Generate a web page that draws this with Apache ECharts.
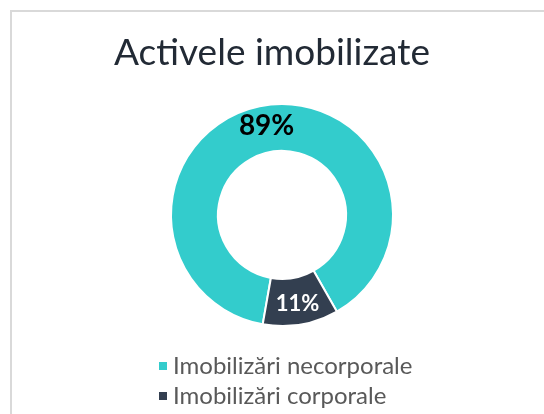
<!DOCTYPE html>
<html>
<head>
<meta charset="utf-8">
<script src="https://cdn.jsdelivr.net/npm/echarts@6/dist/echarts.min.js"></script>
<style>
  html, body { margin: 0; padding: 0; background: #fff; }
  #chart { width: 544px; height: 414px; }
</style>
</head>
<body>
<div id="chart"></div>
<script>
// date
const categories = ['Imobilizări necorporale', 'Imobilizări corporale']
const shares = [89, 11]
const colors = ['#33CCCC', '#333F50']

const chart = echarts.init(document.getElementById('chart'))
const fontFamily = 'Lato, "Noto Sans", sans-serif'

chart.setOption({
  backgroundColor: '#fff',
  color: colors,
  // chenar gri
  graphic: [{
    type: 'rect',
    shape: { x: 11, y: 11, width: 600, height: 500 },
    style: { fill: 'none', stroke: '#d9d9d9', lineWidth: 2 },
    silent: true
  }],
  title: {
    text: 'Activele imobilizate',
    left: 'center',
    top: 30,
    textStyle: {
      fontFamily,
      fontSize: 37,
      fontWeight: 'normal',
      color: '#222a35'
    }
  },
  legend: {
    orient: 'vertical',
    left: 152,
    top: 349,
    icon: 'rect',
    itemWidth: 10,
    itemHeight: 10,
    itemGap: 6,
    data: categories,
    textStyle: {
      fontFamily,
      fontSize: 24,
      lineHeight: 24,
      color: '#595959'
    }
  },
  series: [{
    type: 'pie',
    center: [282, 215],
    radius: [64, 111],
    startAngle: -100,
    clockwise: true,
    avoidLabelOverlap: false,
    itemStyle: { borderColor: '#fff', borderWidth: 2 },
    label: {
      show: true,
      position: 'inside',
      formatter: '{d}%',
      fontFamily,
      fontWeight: 'bold'
    },
    labelLine: { show: false },
    emphasis: { disabled: true },
    data: categories.map((name, i) => ({
      name,
      value: shares[i],
      label: i === 0
        ? { color: '#000', fontSize: 28 }
        : { color: '#fff', fontSize: 22 }
    }))
  }]
})
</script>
</body>
</html>
